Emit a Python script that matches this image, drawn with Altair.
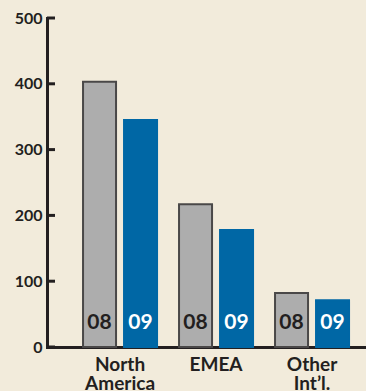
import altair as alt
import pandas as pd

regions = ["North America", "EMEA", "Other Int’l."]
years = ["08", "09"]
values_08 = [403, 217, 82]
values_09 = [345, 178, 71]
y_ticks = [0, 100, 200, 300, 400, 500]

rows = []
for r, a, b in zip(regions, values_08, values_09):
    rows.append({"region": r, "year": "08", "value": a})
    rows.append({"region": r, "year": "09", "value": b})
df = pd.DataFrame(rows)
ticks_df = pd.DataFrame({"t": y_ticks})

BG = "#f2ebdb"
DARK = "#231f20"

x_enc = alt.X(
    "region:N",
    sort=regions,
    scale=alt.Scale(paddingInner=0.229, paddingOuter=0.276, align=0.68),
    axis=alt.Axis(
        title=None,
        labelExpr="split(datum.label, ' ')",
        labelAngle=0,
        labelFont="Lato",
        labelFontWeight="bold",
        labelFontSize=19,
        labelColor=DARK,
        labelLineHeight=19,
        labelPadding=8,
        labelBaseline="top",
        ticks=False,
        domainColor=DARK,
        domainWidth=3,
        domainCap="square",
        grid=False,
    ),
)
xoff = alt.XOffset("year:N", scale=alt.Scale(paddingInner=0.195, paddingOuter=0))
y_scale = alt.Scale(domain=[0, 500], nice=False)

base = alt.Chart(df)

bars = base.mark_bar(strokeWidth=2).encode(
    x=x_enc,
    xOffset=xoff,
    y=alt.Y(
        "value:Q",
        scale=y_scale,
        axis=alt.Axis(
            title=None,
            values=y_ticks,
            labelFont="Lato",
            labelFontWeight="bold",
            labelFontSize=16,
            labelColor=DARK,
            labelPadding=5,
            ticks=False,
            domainColor=DARK,
            domainWidth=3,
            domainCap="square",
            grid=False,
        ),
    ),
    fill=alt.Fill("year:N", scale=alt.Scale(domain=years, range=["#adadad", "#0067a5"]), legend=None),
    stroke=alt.Stroke("year:N", scale=alt.Scale(domain=years, range=["#4a4848", "#0067a5"]), legend=None),
)

labels = base.mark_text(
    font="Lato", fontWeight="bold", fontSize=21, baseline="middle", dy=-24
).encode(
    x=alt.X("region:N", sort=regions),
    xOffset=xoff,
    y=alt.Y("zero:Q", scale=y_scale),
    text="year:N",
    color=alt.Color("year:N", scale=alt.Scale(domain=years, range=[DARK, "#ffffff"]), legend=None),
).transform_calculate(zero="0")

tick_marks = alt.Chart(ticks_df).mark_rule(color=DARK, strokeWidth=3).encode(
    y=alt.Y("t:Q", scale=y_scale),
    x=alt.value(0),
    x2=alt.value(8),
)

chart = (
    alt.layer(bars, labels, tick_marks)
    .resolve_scale(color="independent")
    .properties(
        width=319,
        height=329,
        background=BG,
        padding={"left": 47, "top": 18, "right": 0, "bottom": 44},
        autosize=alt.AutoSizeParams(type="none"),
    )
    .configure_view(stroke=None)
)

chart.save("out.html", embed_options={"renderer": "svg", "actions": False})
